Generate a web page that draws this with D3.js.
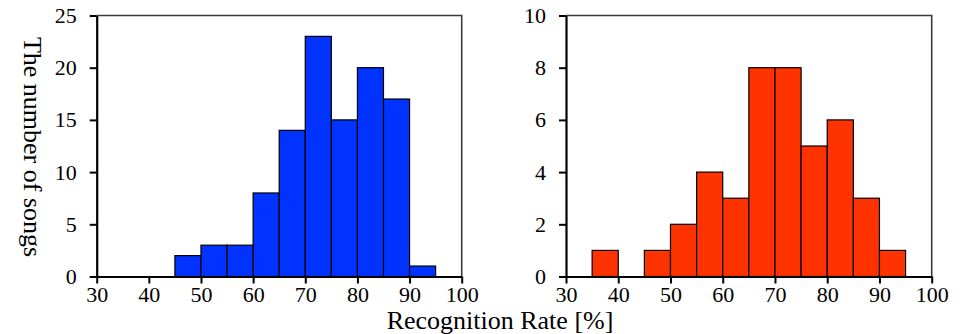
<!DOCTYPE html>
<html>
<head>
<meta charset="utf-8">
<script src="https://cdn.jsdelivr.net/npm/d3@7"></script>
<style>
  body { margin: 0; background: #fff; }
  svg { display: block; }
</style>
</head>
<body>
<div id="chart"></div>
<script>
// bin start values (width 5)
const binStarts = [30, 35, 40, 45, 50, 55, 60, 65, 70, 75, 80, 85, 90, 95];
const leftCounts = [0, 0, 0, 2, 3, 3, 8, 14, 23, 15, 20, 17, 1, 0];
const rightCounts = [0, 1, 0, 1, 2, 4, 3, 8, 8, 5, 6, 3, 1, 0];
const xTicks = [30, 40, 50, 60, 70, 80, 90, 100];
const leftYTicks = [0, 5, 10, 15, 20, 25];
const rightYTicks = [0, 2, 4, 6, 8, 10];

const width = 964, height = 334;
const svg = d3.select('#chart').append('svg')
  .attr('width', width)
  .attr('height', height);

const plotTop = 15.5, plotBottom = 276.5;
const serif = '"Liberation Serif", "Times New Roman", serif';

function drawPanel(x0, x1, counts, yMax, yTicks, color) {
  const x = d3.scaleLinear().domain([30, 100]).range([x0, x1]);
  const y = d3.scaleLinear().domain([0, yMax]).range([plotBottom, plotTop]);

  const g = svg.append('g');

  // frame top / right
  g.append('path')
    .attr('d', `M${x0},${plotTop}H${x1}V${plotBottom}`)
    .attr('fill', 'none')
    .attr('stroke', '#3a3a3a')
    .attr('stroke-width', 1.6);

  const data = binStarts.map((b, i) => ({ b: b, v: counts[i] })).filter(d => d.v > 0);
  g.selectAll('rect.bar')
    .data(data)
    .enter()
    .append('rect')
    .attr('class', 'bar')
    .attr('x', d => x(d.b))
    .attr('y', d => y(d.v))
    .attr('width', d => x(d.b + 5) - x(d.b))
    .attr('height', d => plotBottom - y(d.v))
    .attr('fill', color)
    .attr('stroke', '#000')
    .attr('stroke-width', 1.2);

  const xAxis = g.append('g')
    .attr('transform', `translate(0,${plotBottom})`)
    .call(d3.axisBottom(x).tickValues(xTicks).tickSize(7).tickPadding(3).tickSizeOuter(0));
  const yAxis = g.append('g')
    .attr('transform', `translate(${x0},0)`)
    .call(d3.axisLeft(y).tickValues(yTicks).tickSize(7).tickPadding(13).tickSizeOuter(0));

  [xAxis, yAxis].forEach(a => {
    a.select('.domain').attr('stroke', '#000').attr('stroke-width', 2.2);
    a.selectAll('.tick line').attr('stroke', '#000').attr('stroke-width', 2);
    a.selectAll('.tick text')
      .attr('fill', '#000')
      .style('font-family', serif)
      .style('font-size', '22px');
  });
}

drawPanel(96.7, 461.7, leftCounts, 25, leftYTicks, '#0033ff');
drawPanel(566, 931.7, rightCounts, 10, rightYTicks, '#ff3300');

svg.append('text')
  .attr('transform', `translate(30,147) rotate(90)`)
  .attr('text-anchor', 'middle')
  .attr('dominant-baseline', 'middle')
  .style('font-family', serif)
  .style('font-size', '26px')
  .text('The number of songs');

svg.append('text')
  .attr('x', 500)
  .attr('y', 329)
  .attr('text-anchor', 'middle')
  .style('font-family', serif)
  .style('font-size', '26px')
  .text('Recognition Rate [%]');
</script>
</body>
</html>
